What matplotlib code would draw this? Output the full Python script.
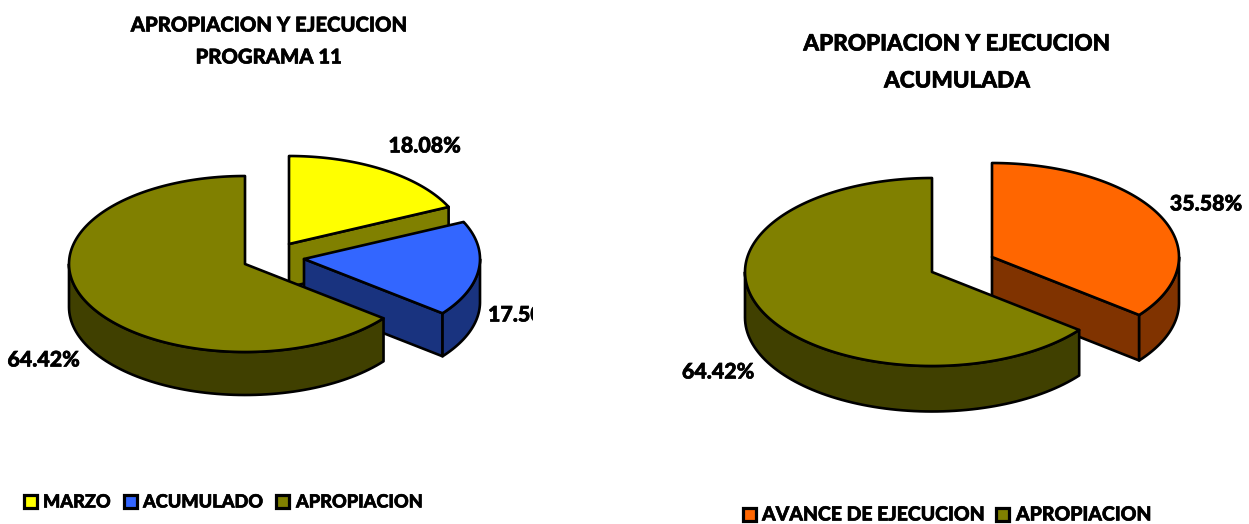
import numpy as np
import matplotlib
matplotlib.use("Agg")
import matplotlib.pyplot as plt
import matplotlib.patheffects as pe
from matplotlib.patches import Polygon, Rectangle
from matplotlib.transforms import Bbox

plt.rcParams['font.family'] = ['Lato', 'DejaVu Sans']
WEIGHT = 'black'
# Lato comes out a little light here, so thicken it slightly
BOLD = [pe.withStroke(linewidth=0.45, foreground='black')]

# left pie
left_names = ['MARZO', 'ACUMULADO', 'APROPIACION']
left_values = [18.08, 17.50, 64.42]
left_colors = ['#FFFF00', '#3366FF', '#808000']
left_sides = ['#808000', '#19337F', '#404000']

# right pie
right_names = ['AVANCE DE EJECUCION', 'APROPIACION']
right_values = [35.58, 64.42]
right_colors = ['#FF6600', '#808000']
right_sides = ['#803300', '#404000']

LW = 1.9


def pts(cx, cy, rx, ry, ang):
    # ang is clockwise from 12 o'clock, in degrees
    a = np.radians(ang)
    return np.column_stack([cx + rx * np.sin(a), cy - ry * np.cos(a)])


def draw_slice(ax, center, rx, ry, depth, start, end, color, side, z):
    cx, cy = center
    kw = dict(edgecolor='black', linewidth=LW, joinstyle='round', zorder=z)
    # radial wall at the clockwise end
    if np.sin(np.radians(end)) > 0:
        p = pts(cx, cy, rx, ry, np.array([end]))[0]
        ax.add_patch(Polygon([(cx, cy), p, (p[0], p[1] + depth), (cx, cy + depth)],
                             facecolor=side, **kw))
    # radial wall at the other end
    if np.sin(np.radians(start)) < 0:
        p = pts(cx, cy, rx, ry, np.array([start]))[0]
        ax.add_patch(Polygon([(cx, cy), p, (p[0], p[1] + depth), (cx, cy + depth)],
                             facecolor=side, **kw))
    # outer wall, only the part facing the viewer
    a0, a1 = max(start, 90), min(end, 270)
    if a1 > a0:
        arc = pts(cx, cy, rx, ry, np.linspace(a0, a1, 80))
        low = arc + [0, depth]
        ax.add_patch(Polygon(np.vstack([arc, low[::-1]]), facecolor=side, **kw))
    # top
    arc = pts(cx, cy, rx, ry, np.linspace(start, end, 160))
    ax.add_patch(Polygon(np.vstack([[cx, cy], arc]), facecolor=color, **kw))


def draw_pie(ax, values, colors, sides, centers, rx, ry, depth):
    start = 0
    z = 2
    for v, c, s, center in zip(values, colors, sides, centers):
        end = start + v / 100 * 360
        draw_slice(ax, center, rx, ry, depth, start, end, c, s, z)
        start = end
        z += 1


def label(ax, x, y, s, size, ha='center'):
    return ax.text(x, y, s, fontsize=size, fontweight=WEIGHT, ha=ha, va='center',
                   color='black', path_effects=BOLD)


def draw_legend(ax, names, colors, boxes, text_x, y, size):
    for name, c, bx, tx in zip(names, colors, boxes, text_x):
        ax.add_patch(Rectangle((bx, y - 6.5), 13, 13, facecolor=c, edgecolor='black',
                               linewidth=2.3, zorder=5))
        label(ax, tx, y + 1, name, size, ha='left')


fig = plt.figure(figsize=(12.49, 5.24), dpi=100)
ax = fig.add_axes([0, 0, 1, 1])
ax.set_xlim(0, 1249)
ax.set_ylim(524, 0)
ax.axis('off')

draw_pie(ax, left_values, left_colors, left_sides,
         [(289, 244), (304, 259), (245, 264)], 176, 88, 43)
draw_pie(ax, right_values, right_colors, right_sides,
         [(992, 257), (932, 272)], 187, 94, 45.5)

label(ax, 268.5, 25, 'APROPIACION Y EJECUCION', 14.6)
label(ax, 268.5, 57, 'PROGRAMA 11', 14.6)
label(ax, 957, 44, 'APROPIACION Y EJECUCION', 16.2)
label(ax, 957, 81, 'ACUMULADA', 16.2)

label(ax, 424.5, 146, '%.2f%%' % left_values[0], 15.4)
# this label is cut off at the edge of the left chart in the reference
t = label(ax, 488, 315, '%.2f%%' % left_values[1], 15.4, ha='left')
t.set_clip_box(Bbox([[0, 0], [533, 524]]))
t.set_clip_on(True)
label(ax, 43.5, 360, '%.2f%%' % left_values[2], 15.4)
label(ax, 1206, 204, '%.2f%%' % right_values[0], 15.4)
label(ax, 718, 372, '%.2f%%' % right_values[1], 15.4)

draw_legend(ax, left_names, left_colors, [24, 124, 276], [43, 143, 296], 501, 13.1)
draw_legend(ax, right_names, right_colors, [743, 996], [762, 1016], 514, 14.0)

fig.savefig('out.png', dpi=100)
